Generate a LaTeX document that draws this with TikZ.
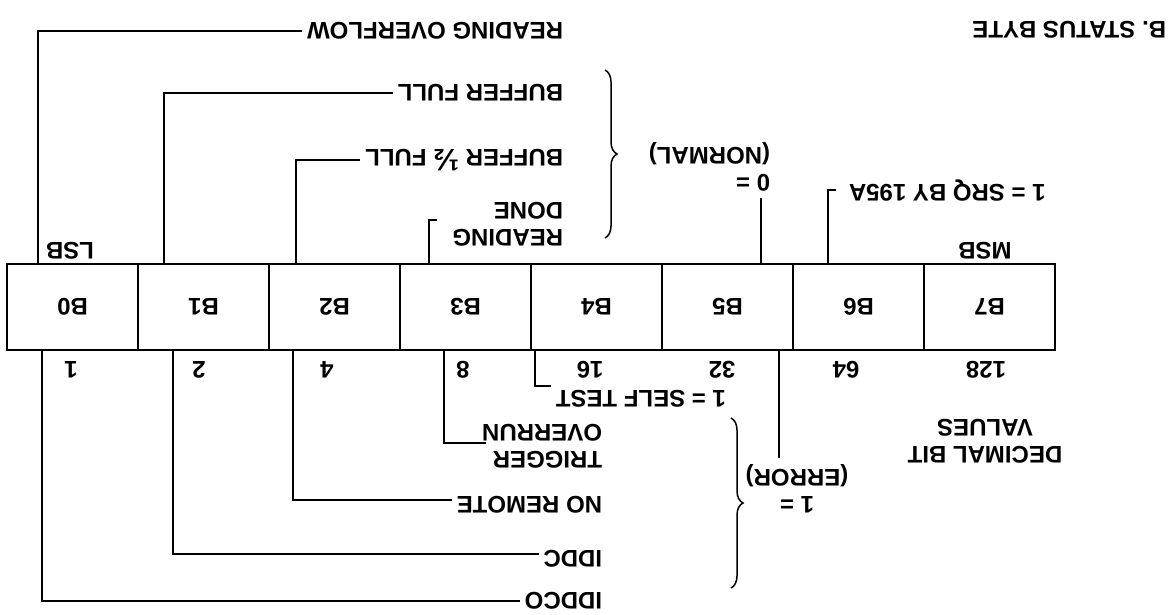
\documentclass[tikz,border=0pt]{standalone}
\usepackage{fontspec}
\setmainfont{Liberation Sans}
\usepackage{graphicx}
\usetikzlibrary{decorations.pathreplacing}
\newcommand{\Rt}[1]{\rotatebox[origin=c]{180}{#1}}
\newcommand{\RtL}[1]{\rotatebox[origin=c]{180}{\begin{tabular}{@{}l@{}}#1\end{tabular}}}
\newcommand{\RtC}[1]{\rotatebox[origin=c]{180}{\begin{tabular}{@{}c@{}}#1\end{tabular}}}
\begin{document}
\begin{tikzpicture}[x=1pt, y=-1pt,
  font=\fontsize{24}{27}\selectfont\bfseries,
  line width=1.8pt,
  lbl/.style={inner sep=4pt},
  cell/.style={draw, minimum width=131pt, minimum height=86pt, inner sep=0pt},
  brc/.style={decorate, decoration={brace, amplitude=12pt}, line width=1.5pt}]
\useasboundingbox (0,0) rectangle (1176,614);

% register cells
\foreach \i in {0,...,7}
  \node[cell] (b\i) at ({72.5+131*\i},307) {\Rt{B\i}};

% title
\node[lbl, anchor=east] (title) at (1171,30) {\Rt{B. STATUS BYTE}};

% LSB / MSB
\node[lbl] (lsb) at (70,251) {\Rt{LSB}};
\node[lbl] (msb) at (985,251) {\Rt{MSB}};

% decimal values
\node[lbl] (n0) at (71,370) {\Rt{1}};
\node[lbl] (n1) at (199,370) {\Rt{2}};
\node[lbl] (n2) at (327,370) {\Rt{4}};
\node[lbl] (n3) at (463,370) {\Rt{8}};
\node[lbl] (n4) at (590,370) {\Rt{16}};
\node[lbl] (n5) at (722,370) {\Rt{32}};
\node[lbl] (n6) at (846,370) {\Rt{64}};
\node[lbl] (n7) at (986,370) {\Rt{128}};
\node[lbl] (dv) at (985,438) {\RtC{DECIMAL BIT\\VALUES}};

% upper labels
\node[lbl, anchor=east] (ro) at (568,31) {\Rt{READING OVERFLOW}};
\node[lbl, anchor=east] (bf) at (568,93) {\Rt{BUFFER FULL}};
\node[lbl, anchor=east] (bh) at (568,160) {\Rt{BUFFER {\fontsize{31}{31}\selectfont ½} FULL}};
\node[lbl, anchor=east] (rd) at (568,221) {\RtL{READING\\DONE}};
\node[lbl, anchor=east] (nm) at (775,166) {\RtL{0 =\\(NORMAL)}};
\node[lbl, anchor=west] (sq) at (844,191) {\Rt{1 = SRQ BY 195A}};
\coordinate (rdend) at (437,220);
\coordinate (sqend) at (836,190);

\draw (38,0 |- b0.north) |- (ro.west);
\draw (164,0 |- b1.north) |- (bf.west);
\draw (296,0 |- b2.north) |- (bh.west);
\draw (429,0 |- b3.north) |- (rdend);
\draw (761,0 |- b5.north) -- (761,0 |- nm.south);
\draw (828,0 |- b6.north) |- (sqend);
\draw[brc] (605,70) -- (605,238);

% lower labels
\node[lbl, anchor=west] (st) at (551,399) {\Rt{1 = SELF TEST}};
\node[lbl, anchor=east] (tg) at (607,443) {\RtL{TRIGGER\\OVERRUN}};
\node[lbl, anchor=east] (nr) at (607,505) {\Rt{NO REMOTE}};
\node[lbl, anchor=east] (id) at (607,559) {\Rt{IDDC}};
\node[lbl, anchor=east] (ic) at (607,601) {\Rt{IDDCO}};
\node[lbl] (er) at (797,488) {\RtC{1 =\\(ERROR)}};
\coordinate (erend) at (779,458);

\draw (42,0 |- b0.south) |- (ic.west);
\draw (173,0 |- b1.south) |- ([yshift=5pt]id.west);
\draw (293,0 |- b2.south) |- ([yshift=5pt]nr.west);
\draw (444,0 |- b3.south) |- ([xshift=9pt]tg.west);
\draw (535,0 |- b4.south) |- (st.north west);
\draw (779,0 |- b5.south) -- (erend);
\draw[brc] (731,418) -- (731,588);
\end{tikzpicture}
\end{document}
